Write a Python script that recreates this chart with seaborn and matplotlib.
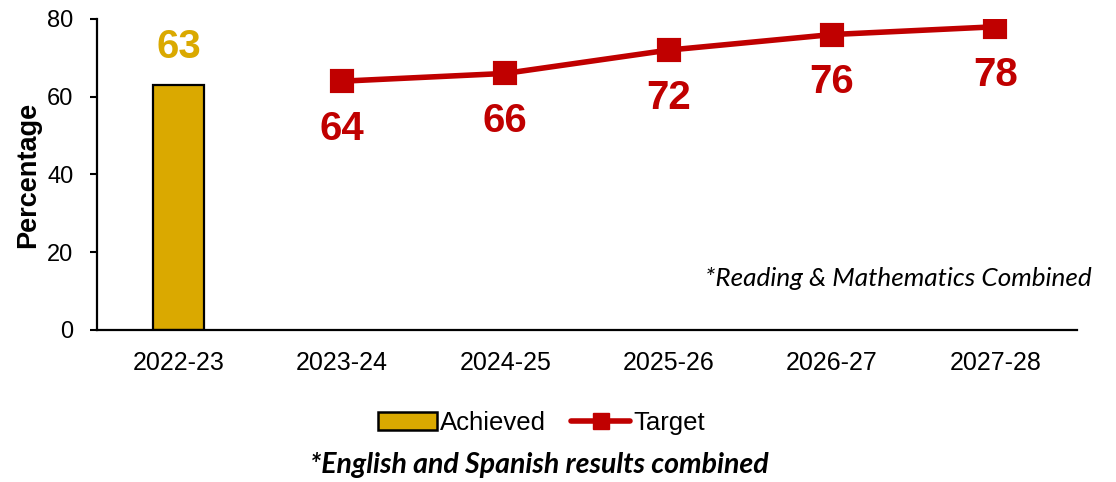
import matplotlib
matplotlib.use("Agg")
import matplotlib.pyplot as plt
import seaborn as sns
import pandas as pd
from matplotlib.patches import Patch
from matplotlib.lines import Line2D

years = ["2022-23", "2023-24", "2024-25", "2025-26", "2026-27", "2027-28"]
achieved_years = ["2022-23"]
achieved_values = [63]
target_years = ["2023-24", "2024-25", "2025-26", "2026-27", "2027-28"]
target_values = [64, 66, 72, 76, 78]
y_ticks = [0, 20, 40, 60, 80]

GOLD = "#DAA900"
RED = "#C00000"

sns.set_theme(style="white")
plt.rcParams["font.family"] = ["Liberation Sans", "DejaVu Sans"]
plt.rcParams.update({"text.color": "black", "axes.labelcolor": "black",
                     "xtick.color": "black", "ytick.color": "black"})

fig = plt.figure(figsize=(11.16, 4.82), dpi=100)
ax = fig.add_axes([0.0869, 0.3154, 0.8781, 0.6452])

ach = pd.DataFrame({"year": achieved_years, "value": achieved_values})
tgt = pd.DataFrame({"year": target_years, "value": target_values})

sns.barplot(data=ach, x="year", y="value", order=years, color=GOLD,
            saturation=1, width=0.31, edgecolor="black", linewidth=1.6, ax=ax)
sns.pointplot(data=tgt, x="year", y="value", order=years, color=RED,
              markers="s", markersize=15, linewidth=4, ax=ax)

pos = {y: i for i, y in enumerate(years)}
for y, v in zip(achieved_years, achieved_values):
    ax.text(pos[y], v + 9.8, f"{v}", ha="center", va="center",
            fontsize=29, fontweight="bold", color=GOLD)
for y, v in zip(target_years, target_values):
    ax.text(pos[y], v - 12.3, f"{v}", ha="center", va="center",
            fontsize=29, fontweight="bold", color=RED)

ax.set_xlim(-0.5, len(years) - 0.5)
ax.set_ylim(0, 80)
ax.set_yticks(y_ticks)
ax.set_xlabel("")
ax.set_ylabel("Percentage", fontsize=19.5, fontweight="bold", labelpad=4)
ax.tick_params(axis="y", labelsize=17, length=5, width=1.5, color="black",
               left=True, pad=12)
ax.tick_params(axis="x", labelsize=18, length=0, pad=15)
for s in ["top", "right"]:
    ax.spines[s].set_visible(False)
for s in ["left", "bottom"]:
    ax.spines[s].set_color("black")
    ax.spines[s].set_linewidth(1.6)

ax.text(1.0153, 0.164, "*Reading & Mathematics Combined", transform=ax.transAxes,
        ha="right", va="center", fontsize=18.8, fontstyle="italic",
        family=["Lato", "DejaVu Sans"], color="black")

handles = [
    Patch(facecolor=GOLD, edgecolor="black", linewidth=1.8, label="Achieved"),
    Line2D([0], [0], color=RED, linewidth=4, marker="s", markersize=11,
           label="Target"),
]
fig.legend(handles=handles, loc="center", bbox_to_anchor=(0.485, 0.1224),
           ncol=2, frameon=False, fontsize=18.5, handlelength=2.3,
           handleheight=0.75, handletextpad=0.1, columnspacing=1.0)

fig.text(0.483, 0.035, "*English and Spanish results combined", ha="center",
         va="center", fontsize=20.5, fontweight="bold", fontstyle="italic",
         family=["Lato", "DejaVu Sans"])

fig.savefig("out.png", dpi=100)
